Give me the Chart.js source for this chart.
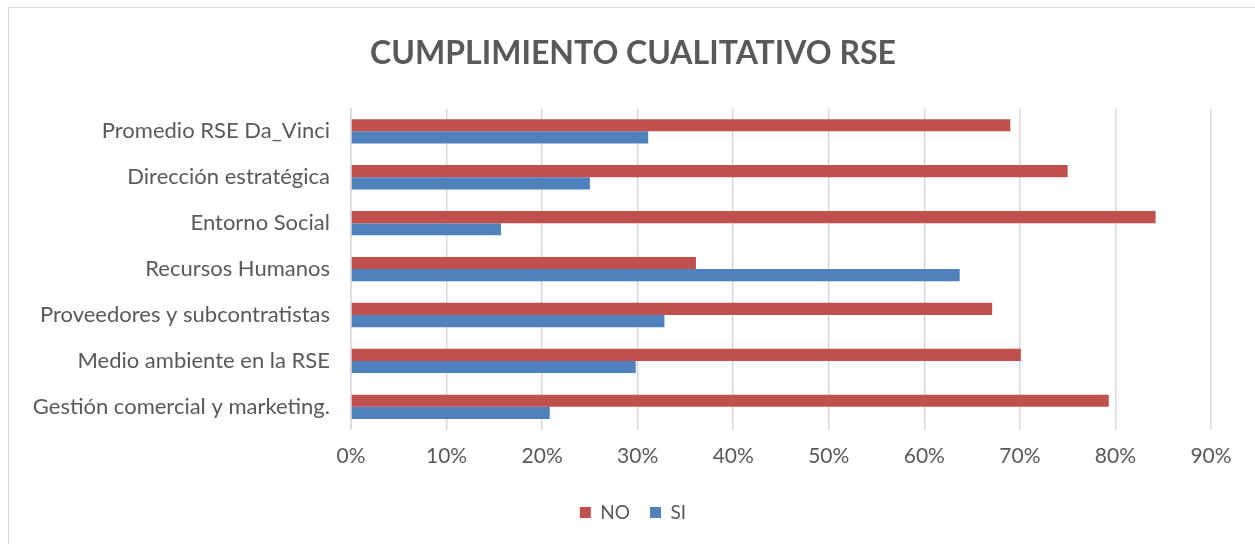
<!DOCTYPE html>
<html>
<head>
<meta charset="utf-8">
<script src="https://cdn.jsdelivr.net/npm/chart.js@4.4.1/dist/chart.umd.min.js"></script>
<style>
  html, body { margin: 0; padding: 0; background: #fff; }
  #frame {
    position: absolute; left: 8px; top: 7px; width: 1250px; height: 545px;
    border: 1px solid #d9d9d9; box-sizing: border-box;
  }
  #wrap { position: absolute; left: 0; top: 0; width: 1248px; height: 543px; }
</style>
</head>
<body>
<div id="frame"><div id="wrap"><canvas id="mainChart"></canvas></div></div>
<script>
const categories = [
    "Promedio RSE Da_Vinci",
    "Dirección estratégica",
    "Entorno Social",
    "Recursos Humanos",
    "Proveedores y subcontratistas",
    "Medio ambiente en la RSE",
    "Gestión comercial y marketing."
];
const noValues = [69.0, 75.0, 84.2, 36.1, 67.1, 70.1, 79.3];
const siValues = [31.1, 25.0, 15.7, 63.7, 32.8, 29.8, 20.8];
const seriesNames = ["NO", "SI"];

const textColor = '#595959';
const fontFamily = 'Lato, "Open Sans", sans-serif';

const ctxMain = document.getElementById("mainChart").getContext("2d");
window.mainChart = new Chart(ctxMain, {
    type: 'bar',
    data: {
        labels: categories,
        datasets: [{
            label: seriesNames[0],
            data: noValues,
            backgroundColor: '#C0504D',
            categoryPercentage: 0.53,
            barPercentage: 1.0
        }, {
            label: seriesNames[1],
            data: siValues,
            backgroundColor: '#4F81BD',
            categoryPercentage: 0.53,
            barPercentage: 1.0
        }]
    },
    options: {
        indexAxis: 'y',
        responsive: true,
        maintainAspectRatio: false,
        animation: false,
        layout: { padding: { left: 3, right: 3, top: 8, bottom: 19 } },
        plugins: {
            title: {
                display: true,
                text: 'CUMPLIMIENTO CUALITATIVO RSE',
                color: textColor,
                font: { family: fontFamily, size: 32, weight: 'bold' },
                padding: { top: 18, bottom: 36 }
            },
            legend: {
                position: 'bottom',
                labels: {
                    color: textColor,
                    font: { family: fontFamily, size: 19 },
                    boxWidth: 11,
                    boxHeight: 11,
                    padding: 20
                }
            },
            tooltip: { enabled: false }
        },
        scales: {
            x: {
                min: 0,
                max: 90,
                ticks: {
                    stepSize: 10,
                    color: textColor,
                    font: { family: fontFamily, size: 21 },
                    padding: 14,
                    callback: v => v + '%'
                },
                grid: { color: '#d9d9d9', lineWidth: 1.5, drawTicks: false },
                border: { display: false }
            },
            y: {
                ticks: {
                    color: textColor,
                    font: { family: fontFamily, size: 22 },
                    padding: 21
                },
                grid: { display: false, drawTicks: false },
                border: { display: true, color: '#d9d9d9', width: 1.5 },
                afterFit: scale => { scale.width = 339; }
            },
            // empty axis on the right, only keeps room so title and legend stay centred on the frame
            yRight: {
                type: 'linear',
                position: 'right',
                display: true,
                ticks: { display: false },
                grid: { display: false, drawTicks: false },
                border: { display: false },
                afterFit: scale => { scale.width = 43; }
            }
        }
    }
});
</script>
</body>
</html>
